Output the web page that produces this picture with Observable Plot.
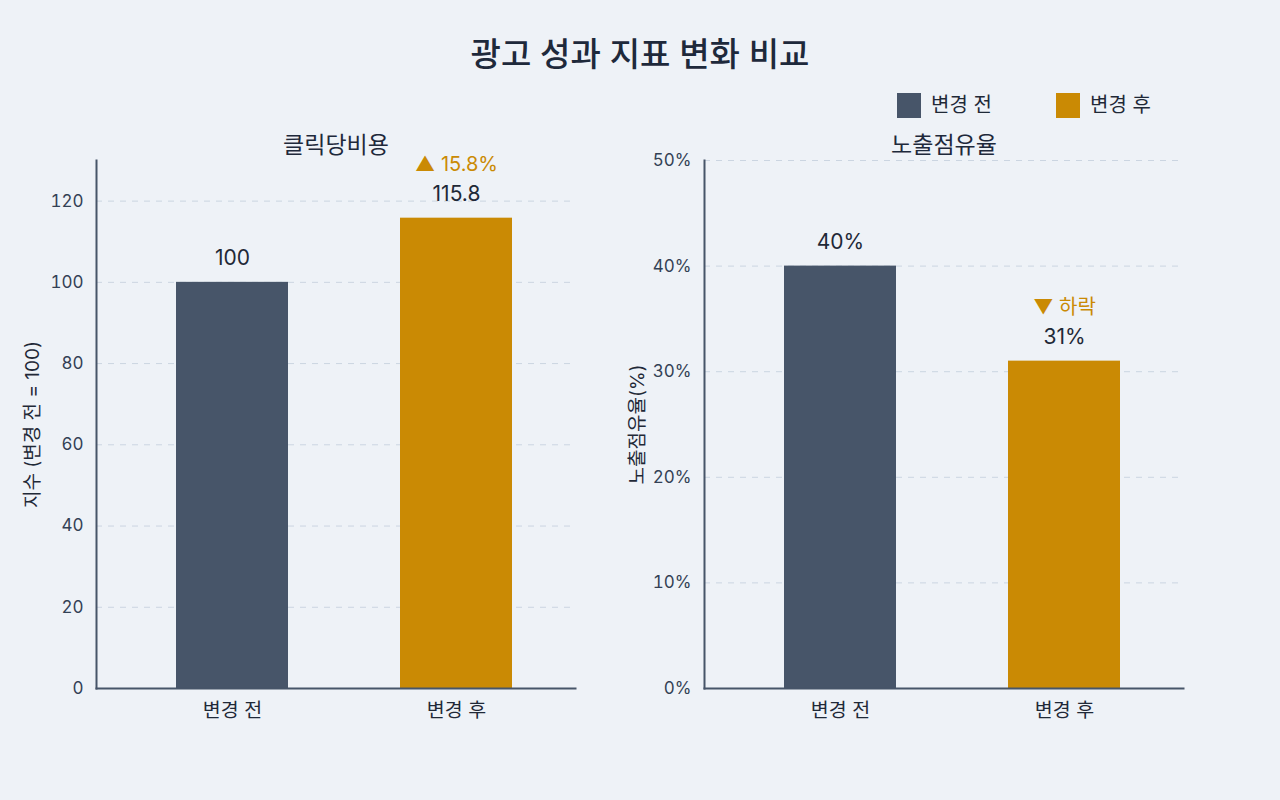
<!DOCTYPE html>
<html>
<head>
<meta charset="utf-8">
<script src="https://cdn.jsdelivr.net/npm/d3@7"></script>
<script src="https://cdn.jsdelivr.net/npm/@observablehq/plot@0.6"></script>
<style>
  html, body { margin: 0; padding: 0; background: #eef2f7; }
  body { width: 1280px; height: 800px; position: relative; overflow: hidden;
         font-family: Inter, "Noto Sans CJK KR", sans-serif; color: #1e293b; }
  #title { position: absolute; left: 0; width: 1280px; top: 34px; text-align: center;
           font-size: 33px; font-weight: 500; line-height: 40px; color: #1e293b; }
  #legend { position: absolute; top: 92px; left: 897px; height: 26px; }
  .item { position: absolute; top: 0; display: flex; align-items: center; white-space: nowrap;
          font-size: 20px; color: #1f2937; line-height: 26px; }
  .sw { width: 24px; height: 25px; margin-right: 10px; }
  #left { position: absolute; left: 0; top: 120px; }
  #right { position: absolute; left: 600px; top: 120px; }
</style>
</head>
<body>
<div id="title">광고 성과 지표 변화 비교</div>
<div id="legend"></div>
<div id="left"></div>
<div id="right"></div>
<script>
// ---- data ----
const periods = ["변경 전", "변경 후"];
const periodColors = ["#475569", "#ca8a04"];
const cpcValues = [100, 115.8];
const cpcLabels = ["100", "115.8"];
const cpcChange = ["", "▲ 15.8%"];
const shareValues = [40, 31];
const shareLabels = ["40%", "31%"];
const shareChange = ["", "▼ 하락"];
const cpcTicks = [0, 20, 40, 60, 80, 100, 120];
const shareTicks = [0, 10, 20, 30, 40, 50];

const titles = { cpc: "클릭당비용", share: "노출점유율" };
const yLabels = { cpc: "지수 (변경 전 = 100)", share: "노출점유율(%)" };

// legend
const legend = document.getElementById("legend");
const legendOffsets = [0, 159];
periods.forEach((p, i) => {
  const it = document.createElement("div");
  it.className = "item";
  it.style.left = legendOffsets[i] + "px";
  it.innerHTML = `<div class="sw" style="background:${periodColors[i]}"></div><span>${p}</span>`;
  legend.appendChild(it);
});

function makeChart({values, labels, changes, ticks, domain, fmt, title, ylabel,
                    width, marginLeft, marginRight, xRange, ylabelDx}) {
  const data = periods.map((p, i) => ({period: p, value: values[i], label: labels[i], change: changes[i]}));
  const ann = data.filter(d => d.change);
  return Plot.plot({
    width, height: 618,
    marginTop: 40, marginBottom: 50, marginLeft, marginRight,
    style: { background: "transparent", fontFamily: 'Inter, "Noto Sans CJK KR", sans-serif', color: "#334155", overflow: "visible" },
    x: { type: "band", domain: periods, range: xRange, padding: 0.5 },
    y: { domain },
    color: { domain: periods, range: periodColors },
    marks: [
      Plot.gridY(ticks.filter(t => t > 0), { stroke: "#cbd5e1", strokeOpacity: 1, strokeDasharray: "6,6", strokeWidth: 1 }),
      Plot.barY(data, { x: "period", y: "value", fill: "period" }),
      Plot.frame({ anchor: "left", stroke: "#475569", strokeWidth: 2 }),
      Plot.frame({ anchor: "bottom", stroke: "#475569", strokeWidth: 2 }),
      Plot.axisY({ ticks, tickSize: 0, tickPadding: 13, fontSize: 17, tickFormat: fmt, label: null, fill: "#334155" }),
      Plot.axisX({ tickSize: 0, tickPadding: 15, fontSize: 19.5, label: null, fill: "#1f2937" }),
      Plot.text(data, { x: "period", y: "value", text: "label", dy: -24, fontSize: 21, fill: "#1f2937" }),
      Plot.text(ann, { x: "period", y: "value", text: "change", dy: -54, fontSize: 20, fill: "#ca8a04" }),
      Plot.text([title], { frameAnchor: "top", lineAnchor: "middle", dy: -15, fontSize: 23, fill: "#1e293b" }),
      Plot.text([ylabel], { frameAnchor: "left", textAnchor: "middle", dx: ylabelDx, rotate: -90, fontSize: 19, fill: "#1f2937" })
    ]
  });
}

document.getElementById("left").appendChild(makeChart({
  values: cpcValues, labels: cpcLabels, changes: cpcChange, ticks: cpcTicks,
  domain: [0, 130], fmt: d => String(d), title: titles.cpc, ylabel: yLabels.cpc,
  width: 600, marginLeft: 96, marginRight: 25, xRange: [64, 624], ylabelDx: -64
}));
document.getElementById("right").appendChild(makeChart({
  values: shareValues, labels: shareLabels, changes: shareChange, ticks: shareTicks,
  domain: [0, 50], fmt: d => d + "%", title: titles.share, ylabel: yLabels.share,
  width: 680, marginLeft: 104, marginRight: 97, xRange: [72, 632], ylabelDx: -67
}));
</script>
</body>
</html>
